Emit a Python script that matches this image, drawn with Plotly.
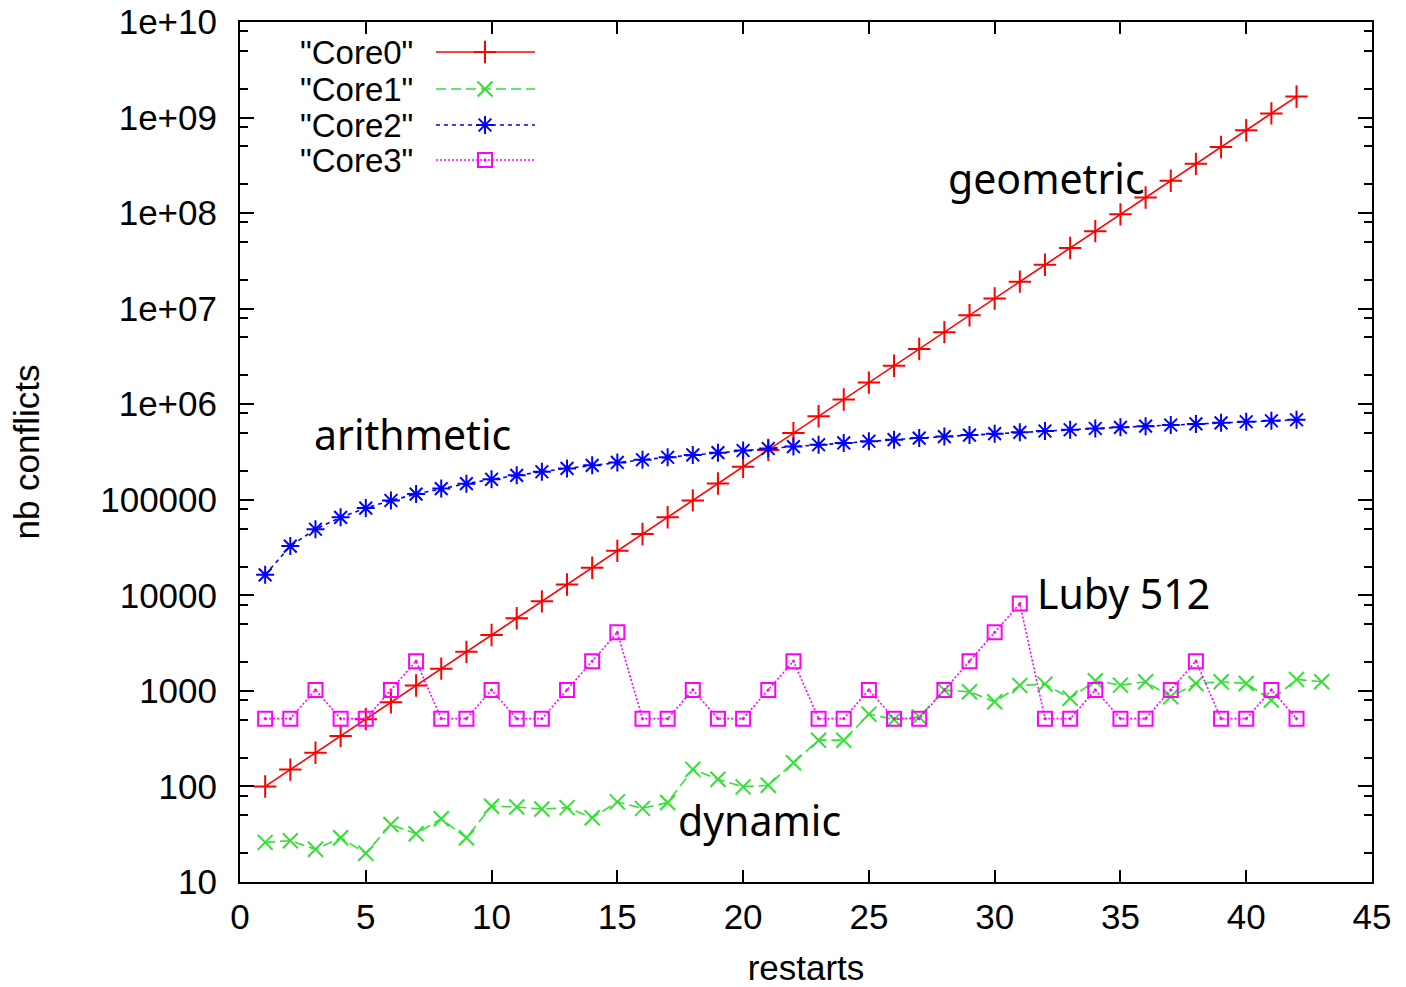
import math
import plotly.graph_objects as go

restarts = list(range(1, 43))
restarts_dyn = list(range(1, 44))

core0 = [100, 150, 225, 338, 506, 759, 1139, 1709, 2563, 3844, 5767, 8650,
         12975, 19462, 29193, 43789, 65684, 98526, 147789, 221684, 332526,
         498789, 748183, 1122274, 1683411, 2525117, 3787675, 5681513, 8522269,
         12783403, 19175105, 28762657, 43143986, 64715979, 97073968, 145610952,
         218416428, 327624642, 491436963, 737155444, 1105733166, 1658599749]

core1 = [26, 27, 22, 29, 20, 40, 32, 46, 29, 62, 61, 58, 60, 47, 69, 59, 68,
         151, 119, 99, 103, 177, 305, 305, 571, 502, 535, 1018, 979, 769, 1140,
         1177, 838, 1276, 1149, 1245, 868, 1197, 1245, 1197, 801, 1320, 1245]

core2 = [16384, 32768, 49152, 65536, 81920, 98304, 114688, 131072, 147456,
         163840, 180224, 196608, 212992, 229376, 245760, 262144, 278528, 294912,
         311296, 327680, 344064, 360448, 376832, 393216, 409600, 425984, 442368,
         458752, 475136, 491520, 507904, 524288, 540672, 557056, 573440, 589824,
         606208, 622592, 638976, 655360, 671744, 688128]

core3 = [512, 512, 1024, 512, 512, 1024, 2048, 512, 512, 1024, 512, 512, 1024,
         2048, 4096, 512, 512, 1024, 512, 512, 1024, 2048, 512, 512, 1024, 512,
         512, 1024, 2048, 4096, 8192, 512, 512, 1024, 512, 512, 1024, 2048, 512,
         512, 1024, 512]

names = ['"Core0"', '"Core1"', '"Core2"', '"Core3"']
colors = ["#ff0000", "#33e033", "#0000ff", "#ff00ff"]
dashes = ["solid", "10px,5px", "4px,4px", "2px,2px"]
symbols = ["cross-thin-open", "x-thin-open", "asterisk-open", "square-open-dot"]
msizes = [16, 15, 15, 14]

xs = [restarts, restarts_dyn, restarts, restarts]
ys = [core0, core1, core2, core3]

y_tickvals = [10 ** k for k in range(1, 11)]
y_ticktext = ["10", "100", "1000", "10000", "100000", "1e+06", "1e+07",
              "1e+08", "1e+09", "1e+10"]
y_minor = [m * 10 ** k for k in range(1, 10) for m in (2, 5, 8)]

annotations_text = ["geometric", "arithmetic", "Luby 512", "dynamic"]
annotations_x = [32.08, 6.84, 35.14, 20.67]
annotations_y = [2.33e8, 4.9e5, 1.06e4, 44.5]

TICK_FONT = dict(family="Liberation Sans, Arial, sans-serif", size=35, color="#000000")
LEG_FONT = dict(family="Liberation Sans, Arial, sans-serif", size=33, color="#000000")

fig = go.Figure()
for i in range(4):
    fig.add_trace(go.Scatter(
        x=xs[i], y=ys[i], mode="lines+markers", name=names[i],
        line=dict(color=colors[i], width=1.6, dash=dashes[i]),
        marker=dict(symbol=symbols[i], size=msizes[i],
                    line=dict(color=colors[i], width=2), color=colors[i]),
        showlegend=False,
    ))

# legend samples drawn on an overlay axis measured in page pixels
leg_y = [52, 89, 125, 160]
for i in range(4):
    fig.add_trace(go.Scatter(
        x=[436, 535], y=[leg_y[i], leg_y[i]], mode="lines",
        line=dict(color=colors[i], width=1.6, dash=dashes[i]),
        xaxis="x2", yaxis="y2", showlegend=False, hoverinfo="skip"))
    fig.add_trace(go.Scatter(
        x=[485], y=[leg_y[i]], mode="markers",
        marker=dict(symbol=symbols[i], size=msizes[i],
                    line=dict(color=colors[i], width=2), color=colors[i]),
        xaxis="x2", yaxis="y2", showlegend=False, hoverinfo="skip"))
    fig.add_annotation(x=414, y=leg_y[i], xref="x2", yref="y2",
                       text=names[i], showarrow=False, xanchor="right",
                       yanchor="middle", font=LEG_FONT, borderpad=0)

for t, ax, ay in zip(annotations_text, annotations_x, annotations_y):
    fig.add_annotation(x=ax, y=math.log10(ay), xref="x", yref="y", text=t,
                       showarrow=False, xanchor="center", yanchor="middle",
                       font=dict(family="Noto Sans, Open Sans, sans-serif",
                                 size=41, color="#000000"))

fig.update_layout(
    width=1406, height=987,
    margin=dict(l=240, r=34, t=22, b=105, autoexpand=False),
    paper_bgcolor="white", plot_bgcolor="white",
    showlegend=False,
    xaxis=dict(range=[0, 45], tickvals=list(range(0, 46, 5)),
               ticks="inside", ticklen=12, tickwidth=1.5, tickcolor="black",
               showline=True, linecolor="black", linewidth=2, mirror="ticks",
               showgrid=False, zeroline=False, tickfont=TICK_FONT,
               ticklabelstandoff=3, automargin=False, ticklabeloverflow="allow",
               title=dict(text="restarts", font=TICK_FONT, standoff=20)),
    yaxis=dict(type="log", range=[1, 10], tickvals=y_tickvals, ticktext=y_ticktext,
               ticks="inside", ticklen=14, tickwidth=1.5, tickcolor="black",
               showline=True, linecolor="black", linewidth=2, mirror="ticks",
               showgrid=False, zeroline=False, tickfont=TICK_FONT,
               ticklabelstandoff=14, automargin=False, ticklabeloverflow="allow",
               minor=dict(tickvals=y_minor, ticks="inside", ticklen=8,
                          tickwidth=1.5, tickcolor="black", showgrid=False),
               title=dict(text="nb conflicts", font=TICK_FONT, standoff=50)),
    xaxis2=dict(range=[240, 1372], overlaying="x", visible=False, fixedrange=True),
    yaxis2=dict(range=[882, 22], overlaying="y", visible=False, fixedrange=True),
)

fig.write_html("out.html",
               config={"displayModeBar": False},
               post_script="document.body.style.margin='0';")
